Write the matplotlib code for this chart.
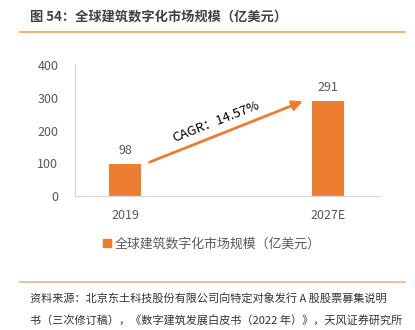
import matplotlib
matplotlib.use("Agg")
import matplotlib.pyplot as plt
from matplotlib.patches import Patch

plt.rcParams['font.family'] = ['Noto Sans CJK SC', 'DejaVu Sans']

years = ['2019', '2027E']
values = [98, 291]
series_name = '全球建筑数字化市场规模（亿美元）'
cagr_text = 'CAGR：14.57%'
title = '图 54：全球建筑数字化市场规模（亿美元）'
source_lines = ['资料来源：北京东土科技股份有限公司向特定对象发行 A 股股票募集说明',
                '书（三次修订稿），《数字建筑发展白皮书（2022 年）》，天风证券研究所']

orange = '#ED7D31'
gray = '#595959'

fig = plt.figure(figsize=(4.15, 3.3), dpi=100)
ax = fig.add_axes([75 / 415, 1 - 196 / 330, 305 / 415, 131 / 330])

x = list(range(len(years)))
rects = ax.bar(x, values, width=0.158, color=orange)
for rect, v in zip(rects, values):
    ax.annotate('{}'.format(v), xy=(rect.get_x() + rect.get_width() / 2, v),
                xytext=(0, 5), textcoords='offset points',
                ha='center', va='bottom', fontsize=9, color=gray)

ax.set_xlim(-0.246, 1.256)
ax.set_ylim(0, 400)
ax.set_yticks([0, 100, 200, 300, 400])
ax.set_xticks(x)
ax.set_xticklabels(years)
ax.tick_params(axis='both', length=0, labelsize=9, colors=gray)
ax.tick_params(axis='y', pad=12)
ax.tick_params(axis='x', pad=9)
for side in ['top', 'right']:
    ax.spines[side].set_visible(False)
for side in ['left', 'bottom']:
    ax.spines[side].set_color('#D9D9D9')
    ax.spines[side].set_linewidth(1.0)

# CAGR arrow
ax.annotate('', xy=(0.888, 292), xytext=(0.108, 100),
            arrowprops=dict(arrowstyle='-|>,head_length=0.6,head_width=0.3',
                        color=orange, lw=2))
ax.text(0.45, 228, cagr_text, rotation=21.5, ha='center', va='center',
        fontsize=9.5, color='black', rotation_mode='anchor')

# legend
fig.legend(handles=[Patch(color=orange, label=series_name)],
           loc='center', bbox_to_anchor=(212 / 415, 1 - 244 / 330),
           frameon=False, fontsize=9.3, handlelength=0.6, handleheight=0.6,
           handletextpad=0.3, labelcolor=gray)

# title and rules
fig.text(30 / 415, 1 - 17 / 330, title, fontsize=9.5, color='#404040',
         va='center', ha='left', fontweight='bold')
fig.add_artist(plt.Line2D([20 / 415, 405 / 415], [1 - 32 / 330] * 2,
                          color='#F4A460', lw=1.2))
fig.add_artist(plt.Line2D([20 / 415, 405 / 415], [1 - 282 / 330] * 2,
                          color='#F4B183', lw=1.2))
fig.text(30 / 415, 1 - 298 / 330, source_lines[0], fontsize=8, color='#333333',
         va='center', ha='left')
fig.text(30 / 415, 1 - 321 / 330, source_lines[1], fontsize=8, color='#333333',
         va='center', ha='left')

fig.savefig('out.png', dpi=100)
